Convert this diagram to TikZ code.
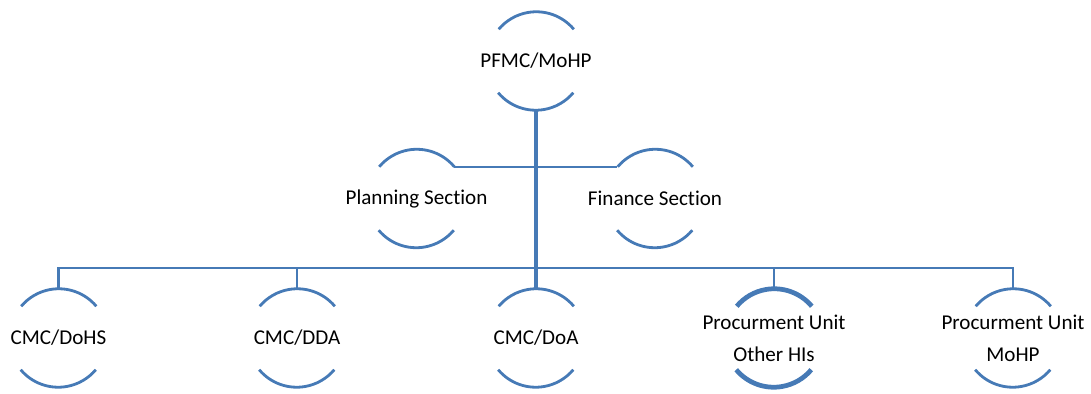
\documentclass[tikz,border=0pt]{standalone}
\usepackage{fontspec}
\setmainfont{Carlito}[Ligatures=NoCommon]
\definecolor{ringblue}{RGB}{70,122,182}
\tikzset{
  unit/.style={circle, minimum size=1.96cm, inner sep=0pt},
  unittext/.style={align=center, inner sep=0pt, font=\fontsize{12}{18.2}\selectfont},
  ring/.style={ringblue, line width=1.6pt},
  link/.style={ringblue, line width=1.4pt}
}

\begin{document}
\begin{tikzpicture}
\useasboundingbox (0,0) rectangle (21.82,7.88);
% top level
\node[unit, label={[unittext]center:PFMC/MoHP}] (pfmc) at (10.72,6.66) {};
% sections
\node[unit, label={[unittext]center:Planning Section}] (plan) at (8.33,3.91) {};
\node[unit, label={[unittext]center:Finance Section}] (fin) at (13.10,3.91) {};
% units
\node[unit, label={[unittext]center:CMC/DoHS}] (dohs) at (1.17,1.12) {};
\node[unit, label={[unittext]center:CMC/DDA}] (dda) at (5.94,1.12) {};
\node[unit, label={[unittext]center:CMC/DoA}] (doa) at (10.72,1.12) {};
\node[unit, label={[unittext]center:Procurment Unit\\Other HIs}] (puhi) at (15.48,1.12) {};
\node[unit, label={[unittext]center:Procurment Unit\\MoHP}] (pumohp) at (20.26,1.12) {};
\coordinate (bus) at (10.72,2.52);

\foreach \n in {pfmc,plan,fin,dohs,dda,doa,pumohp}
  \draw[ring] (\n.40) arc (40:140:0.98cm) (\n.220) arc (220:320:0.98cm);
\draw[ring, line width=2.7pt] (puhi.40) arc (40:140:0.98cm) (puhi.220) arc (220:320:0.98cm);

\draw[link, line width=1.9pt] (pfmc.south) -- (doa.north);
\draw[link] (plan.40) -- (fin.140);
\draw[link] (dohs.north) |- (bus) -| (pumohp.north);
\draw[link] (dda.north) -- (dda.north |- bus);
\draw[link] (puhi.north) -- (puhi.north |- bus);
\end{tikzpicture}
\end{document}
